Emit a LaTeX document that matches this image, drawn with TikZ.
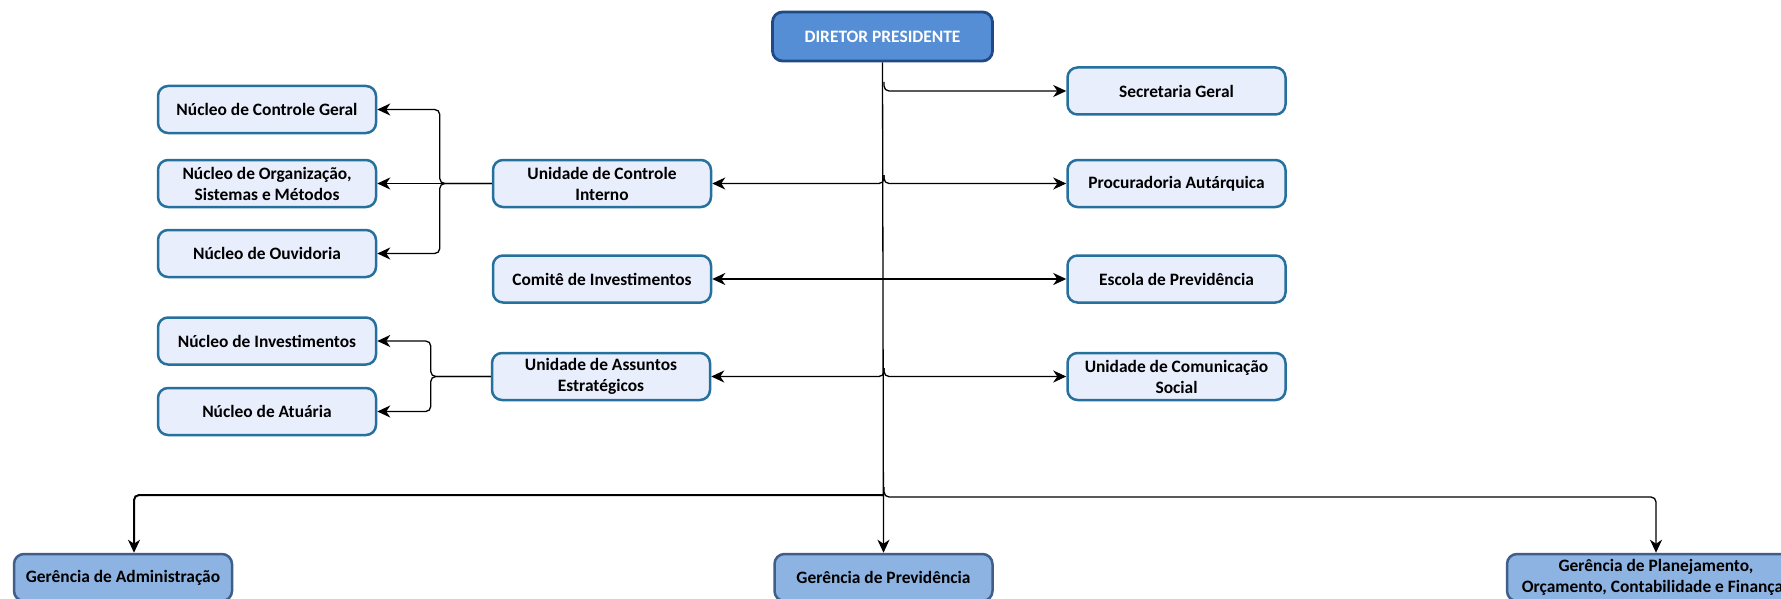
\documentclass[tikz,border=0pt]{standalone}
\usepackage{fontspec}
\setmainfont{Carlito}
\usetikzlibrary{arrows.meta}
\definecolor{boxfill}{HTML}{E9EEFC}
\definecolor{boxline}{HTML}{26709E}
\definecolor{topfill}{HTML}{558ED5}
\definecolor{topline}{HTML}{1F4A86}
\definecolor{mgrfill}{HTML}{8DB3E2}
\definecolor{mgrline}{HTML}{3F5F88}
\begin{document}
\begin{tikzpicture}[x=0.5pt,y=-0.5pt,
  unitbox/.style={draw=boxline, fill=boxfill, line width=1.25pt, rounded corners=5pt,
    minimum width=109pt, minimum height=23.5pt, align=center, inner sep=0pt,
    font=\fontsize{8.7}{10.5}\selectfont\bfseries, text=black},
  headbox/.style={unitbox, draw=topline, fill=topfill, text=white, line width=1.4pt},
  mgrbox/.style={unitbox, draw=mgrline, fill=mgrfill},
  tip/.tip={Stealth[length=6.5pt,width=6pt,inset=2pt]},
  link/.style={line width=0.65pt, -tip, rounded corners=2.5pt},
  boldlink/.style={link, line width=1pt},
]
\useasboundingbox (0,0) rectangle (1781,599);
\clip (0,0) rectangle (1781,599);

% top
\node[headbox, minimum width=110pt, minimum height=24.5pt] (dir) at (882.5,36.5) {DIRETOR PRESIDENTE};

% right column
\node[unitbox] (sec)  at (1176.5,91)    {Secretaria Geral};
\node[unitbox] (proc) at (1176.5,183.5) {Procuradoria Autárquica};
\node[unitbox] (esc)  at (1176.5,279)   {Escola de Previdência};
\node[unitbox] (com)  at (1176.5,376.5) {Unidade de Comunicação\\Social};

% middle column
\node[unitbox] (uci)    at (602,183.5) {Unidade de Controle\\Interno};
\node[unitbox] (comite) at (602,279)   {Comitê de Investimentos};
\node[unitbox] (uae)    at (601,376.5) {Unidade de Assuntos\\Estratégicos};

% left column
\node[unitbox] (ncg)  at (267,109.5) {Núcleo de Controle Geral};
\node[unitbox] (norg) at (267,183.5) {Núcleo de Organização,\\Sistemas e Métodos};
\node[unitbox] (nouv) at (267,253.5) {Núcleo de Ouvidoria};
\node[unitbox] (ninv) at (267,341)   {Núcleo de Investimentos};
\node[unitbox] (natu) at (267,411.5) {Núcleo de Atuária};

% managements
\node[mgrbox] (gadm)  at (123,577.5)   {Gerência de Administração};
\node[mgrbox] (gprev) at (883.5,577.5) {Gerência de Previdência};
\node[mgrbox, minimum width=149pt] (gplan) at (1656,577.5) {Gerência de Planejamento,\\Orçamento, Contabilidade e Finanças};

% trunk from the director down to the pension management
\draw[link] (dir.south) -- (gprev.north);

% branch points on the trunk, each a little above its branch
\coordinate (tSec) at (884,82);
\coordinate (tUci) at (884,175);
\coordinate (tUae) at (884,368);
\coordinate (tBot) at (884,487);

\draw[link] (tSec) |- (sec.west);
\draw[link] (tUci) |- (uci.east);
\draw[link] (tUci) |- (proc.west);
\draw[link] (tUae) |- (uae.east);
\draw[link] (tUae) |- (com.west);

% buses to the left and right managements
\coordinate (busL) at (134,495);
\coordinate (busM) at (tBot |- busL);
\draw[boldlink] (busM) -- (busL) -- (busL |- gadm.north);
\draw[link] (tBot) |- (1656,497) -- (gplan.north);

% committee and school
\draw[boldlink, tip-tip] (comite.east) -- (esc.west);

% internal control units
\draw[link] (uci.west) -- ++(-52,0) |- (ncg.east);
\draw[link] (uci.west) -- (norg.east);
\draw[link] (uci.west) -- ++(-52,0) |- (nouv.east);

% strategic affairs units
\draw[link] (uae.west) -- ++(-60,0) |- (ninv.east);
\draw[link] (uae.west) -- ++(-60,0) |- (natu.east);
\end{tikzpicture}
\end{document}
